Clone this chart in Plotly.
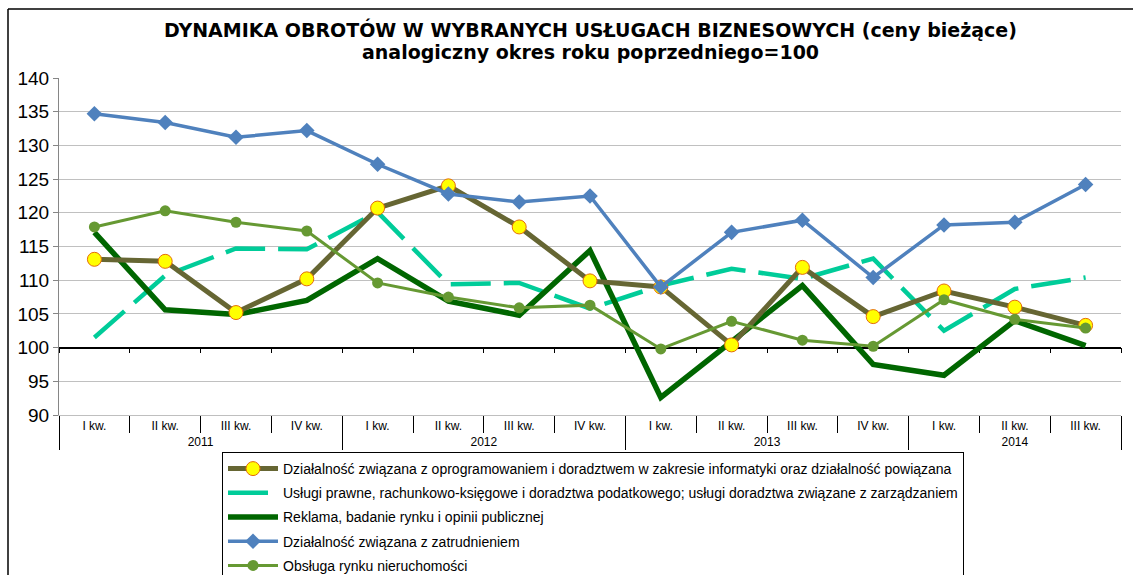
import plotly.graph_objects as go

# ---------------- data ----------------
years = ["2011"] * 4 + ["2012"] * 4 + ["2013"] * 4 + ["2014"] * 3
quarters = ["I kw.", "II kw.", "III kw.", "IV kw."] * 3 + ["I kw.", "II kw.", "III kw."]

names = [
    "Działalność związana z oprogramowaniem i doradztwem w zakresie informatyki oraz działalność powiązana",
    "Usługi prawne, rachunkowo-księgowe i doradztwa podatkowego; usługi doradztwa związane z zarządzaniem",
    "Reklama, badanie rynku i opinii publicznej",
    "Działalność związana z zatrudnieniem",
    "Obsługa rynku nieruchomości",
]

it_software = [113.1, 112.8, 105.2, 110.2, 120.7, 124.0, 117.9, 109.9, 109.0, 100.4, 111.9, 104.6, 108.4, 106.0, 103.3]
legal_acc = [101.5, 110.7, 114.7, 114.6, 120.1, 109.4, 109.6, 105.8, 109.2, 111.7, 110.2, 113.2, 102.5, 108.7, 110.4]
advertising = [117.1, 105.6, 104.9, 107.0, 113.2, 106.9, 104.8, 114.4, 92.6, 101.0, 109.2, 97.5, 95.9, 104.0, 100.3]
employment = [134.7, 133.4, 131.2, 132.2, 127.2, 122.8, 121.6, 122.5, 109.0, 117.1, 118.9, 110.4, 118.2, 118.6, 124.2]
real_estate = [117.9, 120.3, 118.6, 117.3, 109.6, 107.5, 105.9, 106.3, 99.8, 103.9, 101.1, 100.2, 107.1, 104.2, 102.9]

y_ticks = [90, 95, 100, 105, 110, 115, 120, 125, 130, 135, 140]
base_value = 100

title_line1 = "DYNAMIKA OBROTÓW W WYBRANYCH USŁUGACH BIZNESOWYCH (ceny bieżące)"
title_line2 = "analogiczny okres roku poprzedniego=100"

# ---------------- layout constants ----------------
W, H = 1133, 575
ML, MR, MT, MB = 59, 12, 78, 160
PW = W - ML - MR
PH = H - MT - MB
YMIN, YMAX = y_ticks[0], y_ticks[-1]

FONT = "Liberation Sans, Arial, sans-serif"
TFONT = "DejaVu Sans, Liberation Sans, Arial, sans-serif"
x = [years, quarters]


def py(pix):
    """pixel row (from figure top) -> paper y"""
    return (MT + PH - pix) / PH


def px(pix):
    """pixel column (from figure left) -> paper x"""
    return (pix - ML) / PW


fig = go.Figure()

# invisible trace carrying the axis that crosses at 100
fig.add_trace(go.Scatter(x=x, y=[None] * len(quarters), xaxis="x2", yaxis="y",
                         showlegend=False, hoverinfo="skip", mode="lines"))

fig.add_trace(go.Scatter(
    x=x, y=legal_acc, name=names[1], mode="lines", legendrank=2, legendgroup="g2",
    line=dict(color="#00CC99", width=4.5, dash="40px,13px")))
fig.add_trace(go.Scatter(
    x=x, y=advertising, name=names[2], mode="lines", legendrank=3, legendgroup="g3",
    line=dict(color="#006600", width=5.5)))
fig.add_trace(go.Scatter(
    x=x, y=it_software, name=names[0], mode="lines+markers", legendrank=1, legendgroup="g1",
    line=dict(color="#666633", width=5),
    marker=dict(symbol="circle", size=14, color="#FFFF00", line=dict(color="#E46C0A", width=1))))
fig.add_trace(go.Scatter(
    x=x, y=employment, name=names[3], mode="lines+markers", legendrank=4, legendgroup="g4",
    line=dict(color="#4F81BD", width=3.5),
    marker=dict(symbol="diamond", size=12, color="#4F81BD")))
fig.add_trace(go.Scatter(
    x=x, y=real_estate, name=names[4], mode="lines+markers", legendrank=5, legendgroup="g5",
    line=dict(color="#669933", width=3),
    marker=dict(symbol="circle", size=11, color="#669933")))

base_pos = (base_value - YMIN) / (YMAX - YMIN)

fig.update_layout(
    width=W, height=H,
    margin=dict(l=ML, r=MR, t=MT, b=MB, autoexpand=False),
    paper_bgcolor="white", plot_bgcolor="white",
    font=dict(family=FONT, color="black"),
    xaxis=dict(
        type="multicategory", showgrid=False, zeroline=False,
        showline=True, linecolor="#BFBFBF", linewidth=1,
        ticks="outside", tickson="boundaries", ticklen=17, tickcolor="#000000", tickwidth=1,
        showdividers=True, dividercolor="#000000", dividerwidth=1,
        tickfont=dict(size=12, family=FONT, color="black"),
        range=[-0.5, len(quarters) - 0.5],
    ),
    xaxis2=dict(
        type="multicategory", overlaying="x", matches="x", anchor="free", position=base_pos,
        showgrid=False, zeroline=False, showticklabels=False, showdividers=False,
        showline=True, linecolor="#000000", linewidth=1.5,
        ticks="outside", tickson="boundaries", ticklen=5, tickcolor="#000000", tickwidth=1,
        layer="below traces",
    ),
    yaxis=dict(
        range=[YMIN, YMAX], tickvals=y_ticks, showgrid=True, gridcolor="#C0C0C0", gridwidth=1,
        zeroline=False, showline=True, linecolor="#868686", linewidth=1,
        ticks="outside", ticklen=5, tickcolor="#868686",
        tickfont=dict(size=19, family=FONT, color="black"),
    ),
    legend=dict(
        x=px(222), y=py(452), xanchor="left", yanchor="top",
        bordercolor="#000000", borderwidth=1, bgcolor="white",
        font=dict(size=14, family=FONT, color="black"),
        tracegroupgap=3, itemwidth=50,
        traceorder="grouped",
    ),
    showlegend=True,
)

# title (two centred lines)
fig.add_annotation(text=f"<b>{title_line1}</b>", xref="paper", yref="paper",
                   x=0.5, y=py(30), xanchor="center", yanchor="middle", showarrow=False,
                   font=dict(size=19, family=TFONT, color="black"))
fig.add_annotation(text=f"<b>{title_line2}</b>", xref="paper", yref="paper",
                   x=0.5, y=py(52), xanchor="center", yanchor="middle", showarrow=False,
                   font=dict(size=19, family=TFONT, color="black"))

# outer chart frame (left and top edges)
fig.add_shape(type="line", xref="paper", yref="paper",
              x0=px(8), x1=px(W + 5), y0=py(9), y1=py(9),
              line=dict(color="black", width=1.5))
fig.add_shape(type="line", xref="paper", yref="paper",
              x0=px(8), x1=px(8), y0=py(9), y1=py(H + 5),
              line=dict(color="black", width=1.5))

fig.write_html("out.html", config={"displayModeBar": False},
               post_script="document.body.style.margin='0';document.body.style.overflow='hidden';")
